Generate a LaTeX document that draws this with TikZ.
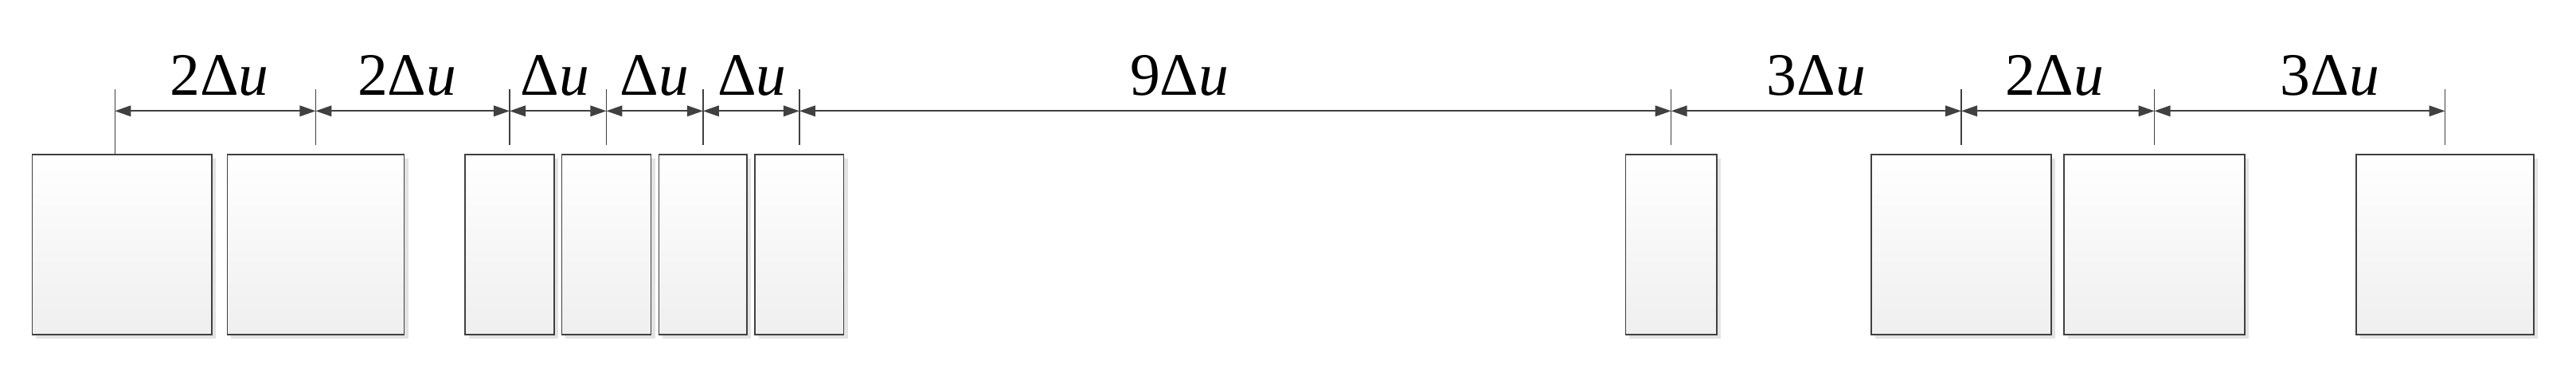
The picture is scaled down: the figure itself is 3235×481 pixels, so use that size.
\documentclass[tikz,border=0pt]{standalone}
\usepackage{fontspec}
\setmainfont{Liberation Serif}
\usetikzlibrary{positioning,arrows.meta,shadows}
\definecolor{edgegray}{HTML}{404040}
\definecolor{shadegray}{HTML}{EFEFEF}
\definecolor{shadowgray}{HTML}{E3E3E3}
\newcommand{\dU}{Δ\textit{u}}

\begin{document}
\begin{tikzpicture}[x=0.01cm, y=-0.01cm,
        block/.style={rectangle, draw=edgegray, line width=0.45pt, top color=white, bottom color=shadegray, minimum height=2.263cm, inner sep=0pt, anchor=north, drop shadow={shadow xshift=0.05cm, shadow yshift=-0.05cm, fill=shadowgray, opacity=1}},
        guide/.style={draw=edgegray, line width=0.4pt},
        dim/.style={{Triangle[length=0.2cm,width=0.135cm]}-{Triangle[length=0.2cm,width=0.135cm]}, color=edgegray, line width=0.5pt},
        dimtext/.style={font=\fontsize{21.5}{26}\selectfont, anchor=base, inner sep=0pt, text=black}
    ]
    \useasboundingbox (0,0) rectangle (3235,481);

    % Blocks
    \foreach \n/\cx/\w in {1/153.05/2.253, 2/396.45/2.221, 3/640/1.114, 4/761.45/1.121, 5/882.85/1.107,
                           6/1003.9/1.114, 7/2098.65/1.143, 8/2463/2.254, 9/2705.5/2.264, 10/3070.5/2.224}
        \node[block, minimum width=\w cm] (blk\n) at (\cx,193) {};

    % Guide lines
    \coordinate (guidetop) at (0,112);
    \coordinate (guidebot) at (0,181.5);
    \coordinate (dimrow) at (0,139.3);
    \coordinate (start) at (144.3,193);
    \draw[guide] (start |- guidetop) -- (start);
    \coordinate (g1) at (start |- dimrow);
    \foreach \n in {2,...,10} {
        \draw[guide] (blk\n.north |- guidetop) -- (blk\n.north |- guidebot);
        \coordinate (g\n) at (blk\n.north |- dimrow);
    }

    % Dimensions
    \foreach \a/\b/\k/\dx in {1/2/2/5, 2/3/2/-7, 3/4/{}/-4, 4/5/{}/0, 5/6/{}/1,
                              6/7/9/-70, 7/8/3/0, 8/9/2/-4, 9/10/3/38}
        \draw[dim] (g\a) -- (g\b) node[dimtext, midway, xshift=\dx*0.01cm, yshift=0.193cm] {\k\dU};

\end{tikzpicture}
\end{document}
